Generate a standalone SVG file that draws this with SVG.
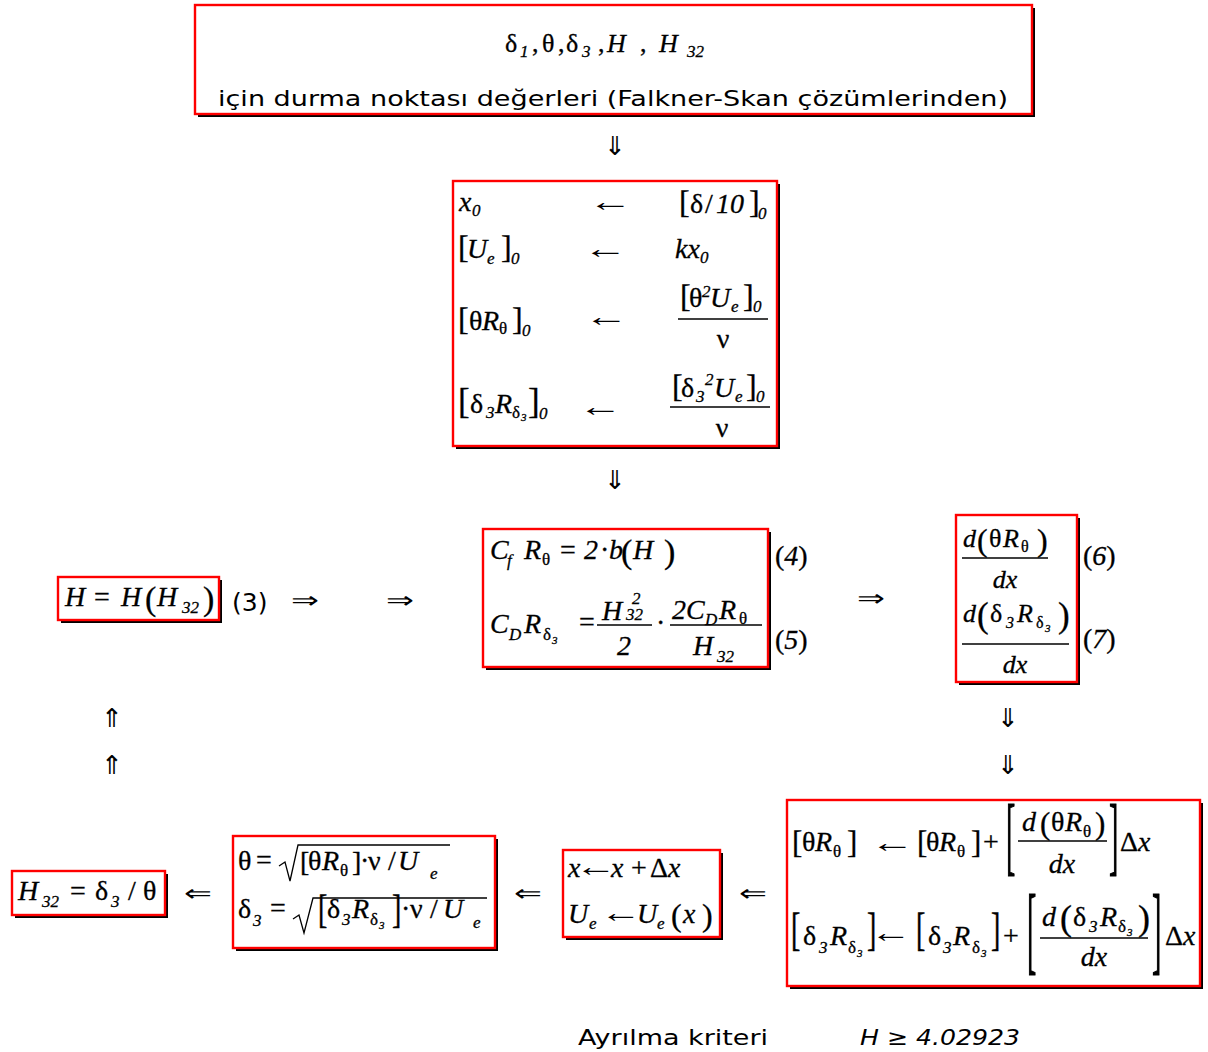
<svg xmlns="http://www.w3.org/2000/svg" width="1208" height="1052" viewBox="0 0 1208 1052">
<style>
text{font-family:"Liberation Serif","Times New Roman",serif;fill:#000;stroke:#000;stroke-width:0.3}
.sans{font-family:"DejaVu Sans",Verdana,sans-serif;stroke:none}
.f{fill:#fff;stroke:#f00;stroke-width:2.4}
.sh{fill:#000}
.i{font-style:italic}
.m{font-size:28px}
.s{font-size:17px}
.ss{font-size:11px}
.ln{stroke:#000;stroke-width:1.3;fill:none}
.ar{font-size:26px;stroke:none}
.ah{font-size:23px;stroke:none}
.la{stroke:none}
</style>
<rect width="1208" height="1052" fill="#fff"/>

<g id="connectors">
<text class="ar" x="615" y="155" text-anchor="middle">⇓</text>
<text class="ar" x="615" y="489" text-anchor="middle">⇓</text>
<text class="ah" transform="translate(305,608) scale(1.45,1)" text-anchor="middle">⇒</text>
<text class="ah" transform="translate(400,608) scale(1.45,1)" text-anchor="middle">⇒</text>
<text class="ah" transform="translate(871,606) scale(1.45,1)" text-anchor="middle">⇒</text>
<text class="ar" x="112" y="727" text-anchor="middle">⇑</text>
<text class="ar" x="112" y="774" text-anchor="middle">⇑</text>
<text class="ar" x="1008" y="727" text-anchor="middle">⇓</text>
<text class="ar" x="1008" y="774" text-anchor="middle">⇓</text>
<text class="ah" transform="translate(198,901) scale(1.45,1)" text-anchor="middle">⇐</text>
<text class="ah" transform="translate(528,901) scale(1.45,1)" text-anchor="middle">⇐</text>
<text class="ah" transform="translate(753,901) scale(1.45,1)" text-anchor="middle">⇐</text>
</g>

<g id="n-start">
<rect class="sh" x="198" y="8" width="837" height="109"/>
<rect class="f" x="195" y="5" width="837" height="109"/>
<text font-size="26"><tspan x="505" y="52">δ</tspan><tspan x="520" y="57" class="i s">1</tspan><tspan x="532" y="52">,</tspan><tspan x="542" y="52">θ</tspan><tspan x="558" y="52">,</tspan><tspan x="566" y="52">δ</tspan><tspan x="582" y="57" class="i s">3</tspan><tspan x="598" y="52">,</tspan><tspan x="607" y="52" class="i">H</tspan><tspan x="640" y="52">,</tspan><tspan x="659" y="52" class="i">H</tspan><tspan x="687" y="57" class="i s">32</tspan></text>
<text class="sans" x="613" y="106" text-anchor="middle" font-size="22" textLength="790" lengthAdjust="spacingAndGlyphs">için durma noktası değerleri (Falkner-Skan çözümlerinden)</text>
</g>

<g id="n-init">
<rect class="sh" x="456" y="184" width="324" height="265"/>
<rect class="f" x="453" y="181" width="324" height="265"/>
<text class="m"><tspan x="459" y="211" class="i">x</tspan><tspan x="472" y="216" class="i s">0</tspan></text>
<text class="m la" transform="translate(610,211) scale(1.6,1)" text-anchor="middle">←</text>
<text class="m"><tspan x="679" y="213" font-size="32">[</tspan><tspan x="690" y="213">δ</tspan><tspan x="705" y="213">/</tspan><tspan x="716" y="213" class="i">10</tspan><tspan x="749" y="213" font-size="32">]</tspan><tspan x="758" y="219" class="i s">0</tspan></text>

<text class="m"><tspan x="458" y="258" font-size="32">[</tspan><tspan x="467" y="258" class="i">U</tspan><tspan x="487" y="264" class="i s">e</tspan><tspan x="501" y="258" font-size="32">]</tspan><tspan x="511" y="264" class="i s">0</tspan></text>
<text class="m la" transform="translate(605,258) scale(1.6,1)" text-anchor="middle">←</text>
<text class="m"><tspan x="675" y="258" class="i">kx</tspan><tspan x="700" y="263" class="i s">0</tspan></text>

<text class="m"><tspan x="458" y="330" font-size="32">[</tspan><tspan x="469" y="330">θ</tspan><tspan x="482" y="330" class="i">R</tspan><tspan x="499" y="334" class="s">θ</tspan><tspan x="512" y="330" font-size="32">]</tspan><tspan x="522" y="336" class="i s">0</tspan></text>
<text class="m la" transform="translate(606,326) scale(1.6,1)" text-anchor="middle">←</text>
<text class="m"><tspan x="680" y="307" font-size="32">[</tspan><tspan x="689" y="307">θ</tspan><tspan x="702" y="297" class="i s">2</tspan><tspan x="710" y="307" class="i">U</tspan><tspan x="731" y="312" class="i s">e</tspan><tspan x="743" y="307" font-size="32">]</tspan><tspan x="753" y="312" class="i s">0</tspan></text>
<line class="ln" x1="678" y1="319" x2="768" y2="319"/>
<text class="m" x="723" y="348" text-anchor="middle">ν</text>

<text class="m"><tspan x="458" y="413" font-size="35">[</tspan><tspan x="470" y="413">δ</tspan><tspan x="486" y="418" class="i s">3</tspan><tspan x="495" y="413" class="i">R</tspan><tspan x="512" y="418" class="s">δ</tspan><tspan x="521" y="421" class="i ss">3</tspan><tspan x="528" y="413" font-size="35">]</tspan><tspan x="539" y="419" class="i s">0</tspan></text>
<text class="m la" transform="translate(600,416) scale(1.6,1)" text-anchor="middle">←</text>
<text class="m"><tspan x="672" y="397" font-size="32">[</tspan><tspan x="681" y="397">δ</tspan><tspan x="696" y="402" class="i s">3</tspan><tspan x="705" y="385" class="i s">2</tspan><tspan x="714" y="397" class="i">U</tspan><tspan x="735" y="402" class="i s">e</tspan><tspan x="746" y="397" font-size="32">]</tspan><tspan x="756" y="402" class="i s">0</tspan></text>
<line class="ln" x1="670" y1="407" x2="770" y2="407"/>
<text class="m" x="722" y="437" text-anchor="middle">ν</text>
</g>

<g id="n-H">
<rect class="sh" x="61" y="580" width="161" height="43"/>
<rect class="f" x="58" y="577" width="161" height="43"/>
<text class="m"><tspan x="65" y="606" class="i">H</tspan><tspan x="94" y="606">=</tspan><tspan x="121" y="606" class="i">H</tspan><tspan x="145" y="610" font-size="34">(</tspan><tspan x="157" y="606" class="i">H</tspan><tspan x="182" y="613" class="i s">32</tspan><tspan x="203" y="610" font-size="34">)</tspan></text>
<text class="sans" x="232" y="611" font-size="25">(3)</text>
</g>

<g id="n-CfCD">
<rect class="sh" x="486" y="532" width="285" height="138"/>
<rect class="f" x="483" y="529" width="285" height="138"/>
<text class="m"><tspan x="490" y="559" class="i">C</tspan><tspan x="507" y="566" class="i s">f</tspan><tspan x="524" y="559" class="i">R</tspan><tspan x="542" y="565" class="s">θ</tspan><tspan x="560" y="559">=</tspan><tspan x="584" y="559" class="i">2</tspan><tspan x="600" y="559">·</tspan><tspan x="609" y="559" class="i">b</tspan><tspan x="621" y="563" font-size="34">(</tspan><tspan x="633" y="559" class="i">H</tspan><tspan x="664" y="563" font-size="34">)</tspan></text>
<text class="m"><tspan x="490" y="633" class="i">C</tspan><tspan x="509" y="640" class="i s">D</tspan><tspan x="524" y="633" class="i">R</tspan><tspan x="543" y="640" class="s">δ</tspan><tspan x="552" y="644" class="i ss">3</tspan><tspan x="579" y="631">=</tspan></text>
<text class="m"><tspan x="602" y="620" class="i">H</tspan><tspan x="632" y="604" class="i s">2</tspan><tspan x="626" y="620" class="i s">32</tspan></text>
<line class="ln" x1="597" y1="625" x2="652" y2="625"/>
<text class="m i" x="624" y="655" text-anchor="middle">2</text>
<text class="m" x="656" y="632">·</text>
<text class="m"><tspan x="672" y="619" class="i">2C</tspan><tspan x="705" y="625" class="i s">D</tspan><tspan x="719" y="619" class="i">R</tspan><tspan x="739" y="624" class="s">θ</tspan></text>
<line class="ln" x1="670" y1="625" x2="762" y2="625"/>
<text class="m"><tspan x="693" y="655" class="i">H</tspan><tspan x="717" y="662" class="i s">32</tspan></text>
<text class="m"><tspan x="775" y="565">(</tspan><tspan class="i">4</tspan><tspan>)</tspan></text>
<text class="m"><tspan x="775" y="649">(</tspan><tspan class="i">5</tspan><tspan>)</tspan></text>
</g>

<g id="n-deriv">
<rect class="sh" x="959" y="518" width="121" height="167"/>
<rect class="f" x="956" y="515" width="121" height="167"/>
<text font-size="26"><tspan x="963" y="547" class="i">d</tspan><tspan x="977" y="551" font-size="32">(</tspan><tspan x="989" y="547">θ</tspan><tspan x="1003" y="547" class="i">R</tspan><tspan x="1021" y="552" font-size="16">θ</tspan><tspan x="1037" y="551" font-size="32">)</tspan></text>
<line class="ln" x1="962" y1="558" x2="1048" y2="558"/>
<text font-size="26" class="i" x="1005" y="588" text-anchor="middle">dx</text>
<text font-size="26"><tspan x="963" y="622" class="i">d</tspan><tspan x="977" y="627" font-size="35">(</tspan><tspan x="990" y="622">δ</tspan><tspan x="1006" y="628" class="i" font-size="16">3</tspan><tspan x="1017" y="622" class="i">R</tspan><tspan x="1036" y="628" font-size="16">δ</tspan><tspan x="1045" y="632" class="i ss">3</tspan><tspan x="1058" y="627" font-size="35">)</tspan></text>
<line class="ln" x1="962" y1="644" x2="1069" y2="644"/>
<text font-size="26" class="i" x="1015" y="673" text-anchor="middle">dx</text>
<text class="m"><tspan x="1083" y="565">(</tspan><tspan class="i">6</tspan><tspan>)</tspan></text>
<text class="m"><tspan x="1083" y="648">(</tspan><tspan class="i">7</tspan><tspan>)</tspan></text>
</g>

<g id="n-H32">
<rect class="sh" x="15" y="874" width="153" height="44"/>
<rect class="f" x="12" y="871" width="153" height="44"/>
<text class="m"><tspan x="18" y="900" class="i">H</tspan><tspan x="42" y="907" class="i s">32</tspan><tspan x="70" y="900">=</tspan><tspan x="95" y="900">δ</tspan><tspan x="111" y="907" class="i s">3</tspan><tspan x="128" y="900">/</tspan><tspan x="143" y="900">θ</tspan></text>
</g>

<g id="n-sqrt">
<rect class="sh" x="236" y="839" width="262" height="112"/>
<rect class="f" x="233" y="836" width="262" height="112"/>
<text class="m"><tspan x="238" y="870">θ</tspan><tspan x="256" y="869">=</tspan><tspan x="300" y="871">[</tspan><tspan x="308" y="870">θ</tspan><tspan x="322" y="870" class="i">R</tspan><tspan x="340" y="876" class="s">θ</tspan><tspan x="352" y="871">]</tspan><tspan x="360" y="870">·</tspan><tspan x="368" y="870">ν</tspan><tspan x="388" y="870">/</tspan><tspan x="398" y="870" class="i">U</tspan><tspan x="430" y="879" class="i s">e</tspan></text>
<path class="ln" d="M279 866 L285 862 L290 881 L298 845 L450 845"/>
<text class="m"><tspan x="238" y="918">δ</tspan><tspan x="253" y="926" class="i s">3</tspan><tspan x="270" y="917">=</tspan><tspan x="327" y="918">δ</tspan><tspan x="342" y="925" class="i s">3</tspan><tspan x="352" y="918" class="i">R</tspan><tspan x="370" y="925" class="s">δ</tspan><tspan x="379" y="929" class="i ss">3</tspan><tspan x="401" y="918">·</tspan><tspan x="410" y="918">ν</tspan><tspan x="430" y="918">/</tspan><tspan x="443" y="918" class="i">U</tspan><tspan x="473" y="928" class="i s">e</tspan></text>
<text class="m" transform="translate(318,923) scale(1,1.46)">[</text>
<text class="m" transform="translate(392,923) scale(1,1.46)">]</text>
<path class="ln" d="M293 919 L299 915 L304 933 L313 898 L487 898"/>
</g>

<g id="n-step">
<rect class="sh" x="566" y="853" width="157" height="87"/>
<rect class="f" x="563" y="850" width="157" height="87"/>
<text class="m"><tspan x="568" y="877" class="i">x</tspan><tspan x="611" y="877" class="i">x</tspan><tspan x="631" y="877">+</tspan><tspan x="650" y="877">Δ</tspan><tspan x="668" y="877" class="i">x</tspan></text>
<text class="m la" transform="translate(596,876) scale(1.5,1)" text-anchor="middle">←</text>
<text class="m"><tspan x="568" y="923" class="i">U</tspan><tspan x="589" y="929" class="i s">e</tspan><tspan x="637" y="923" class="i">U</tspan><tspan x="657" y="929" class="i s">e</tspan><tspan x="671" y="926" font-size="32">(</tspan><tspan x="683" y="923" class="i">x</tspan><tspan x="702" y="926" font-size="32">)</tspan></text>
<text class="m la" transform="translate(621,922) scale(1.5,1)" text-anchor="middle">←</text>
</g>

<g id="n-update">
<rect class="sh" x="790" y="803" width="413" height="186"/>
<rect class="f" x="787" y="800" width="413" height="186"/>
<text class="m"><tspan x="792" y="853" font-size="31">[</tspan><tspan x="802" y="851">θ</tspan><tspan x="815" y="851" class="i">R</tspan><tspan x="833" y="857" class="s">θ</tspan><tspan x="847" y="853" font-size="31">]</tspan><tspan x="917" y="853" font-size="31">[</tspan><tspan x="926" y="851">θ</tspan><tspan x="939" y="851" class="i">R</tspan><tspan x="957" y="857" class="s">θ</tspan><tspan x="971" y="853" font-size="31">]</tspan><tspan x="983" y="851">+</tspan><tspan x="1120" y="851">Δ</tspan><tspan x="1138" y="851" class="i">x</tspan></text>
<text class="m la" transform="translate(892,852) scale(1.6,1)" text-anchor="middle">←</text>
<text class="m" transform="translate(1006,864) scale(1,3.1)">[</text>
<text class="m" transform="translate(1109,864) scale(1,3.1)">]</text>
<text class="m"><tspan x="1022" y="831" class="i">d</tspan><tspan x="1040" y="834" font-size="31">(</tspan><tspan x="1051" y="831">θ</tspan><tspan x="1065" y="831" class="i">R</tspan><tspan x="1083" y="837" class="s">θ</tspan><tspan x="1095" y="834" font-size="31">)</tspan></text>
<line class="ln" x1="1018" y1="841" x2="1107" y2="841"/>
<text class="m i" x="1062" y="873" text-anchor="middle">dx</text>

<text class="m"><tspan x="803" y="945">δ</tspan><tspan x="819" y="953" class="i s">3</tspan><tspan x="830" y="945" class="i">R</tspan><tspan x="848" y="953" class="s">δ</tspan><tspan x="857" y="957" class="i ss">3</tspan><tspan x="928" y="945">δ</tspan><tspan x="943" y="953" class="i s">3</tspan><tspan x="953" y="945" class="i">R</tspan><tspan x="972" y="953" class="s">δ</tspan><tspan x="981" y="957" class="i ss">3</tspan><tspan x="1003" y="945">+</tspan><tspan x="1165" y="945">Δ</tspan><tspan x="1183" y="945" class="i">x</tspan></text>
<text class="m" transform="translate(791,945) scale(1,1.67)">[</text>
<text class="m" transform="translate(867,945) scale(1,1.67)">]</text>
<text class="m la" transform="translate(891,942) scale(1.5,1)" text-anchor="middle">←</text>
<text class="m" transform="translate(916,945) scale(1,1.67)">[</text>
<text class="m" transform="translate(991,945) scale(1,1.67)">]</text>
<text class="m" transform="translate(1027,962) scale(1,3.5)">[</text>
<text class="m" transform="translate(1152,962) scale(1,3.5)">]</text>
<text class="m"><tspan x="1042" y="926" class="i">d</tspan><tspan x="1060" y="930" font-size="36">(</tspan><tspan x="1073" y="926">δ</tspan><tspan x="1089" y="932" class="i s">3</tspan><tspan x="1100" y="926" class="i">R</tspan><tspan x="1118" y="932" class="s">δ</tspan><tspan x="1127" y="936" class="i ss">3</tspan><tspan x="1138" y="930" font-size="36">)</tspan></text>
<line class="ln" x1="1040" y1="938" x2="1148" y2="938"/>
<text class="m i" x="1094" y="966" text-anchor="middle">dx</text>
</g>

<g id="n-criterion">
<text class="sans" x="578" y="1045" font-size="22" textLength="190" lengthAdjust="spacingAndGlyphs">Ayrılma kriteri</text>
<text class="sans i" x="860" y="1045" font-size="22" textLength="160" lengthAdjust="spacingAndGlyphs">H ≥ 4.02923</text>
</g>
</svg>
